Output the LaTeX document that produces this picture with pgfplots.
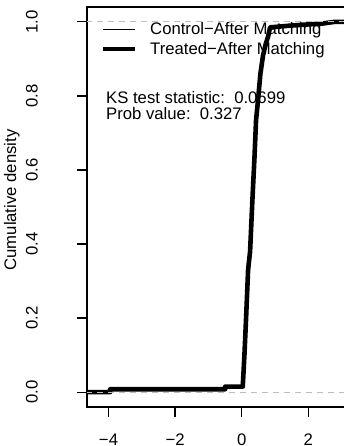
\documentclass[border=0pt]{standalone}
\usepackage{pgfplots}
\pgfplotsset{compat=1.18}
\usepackage{fontspec}
\setmainfont{Liberation Sans}
\newcommand\f{\fontsize{16.7}{19}\selectfont}
\definecolor{rgray}{HTML}{BEBEBE}
\begin{document}
\f
\begin{tikzpicture}
\useasboundingbox (0pt,0pt) rectangle (344pt,446pt);
\clip (0pt,0pt) rectangle (344pt,446pt);
\begin{axis}[
  at={(87pt,39pt)}, anchor=south west,
  scale only axis, width=268pt, height=400pt,
  xmin=-4.646, xmax=3.4, ymin=-0.04, ymax=1.04,
  xtick={-4,-2,0,2}, xticklabels={−4,−2,0,2},
  ytick={0,0.2,0.4,0.6,0.8,1.0}, yticklabels={0.0,0.2,0.4,0.6,0.8,1.0},
  xtick pos=bottom, ytick pos=left,
  tick align=outside, major tick length=10pt,
  tick style={line width=1.3pt, black},
  axis line style={line width=1.3pt},
  tick label style={font=\f},
  xticklabel style={anchor=base, inner sep=0pt},
  yticklabel style={rotate=90, anchor=south, inner sep=0pt},
  xticklabel shift=28.5pt, yticklabel shift=39pt,
  axis on top=false,
]
% Control
\addplot[black, line width=1.3pt] coordinates {
(-5,0) (-4.0,0) (-4.0,0.007) (-0.45,0.007) (-0.45,0.014) (0.05,0.014)
(0.09,0.10) (0.14,0.21) (0.20,0.33) (0.26,0.39) (0.33,0.53) (0.39,0.64)
(0.44,0.74) (0.50,0.80) (0.57,0.86) (0.65,0.915) (0.73,0.945) (0.80,0.965)
(0.88,0.983) (1.6,0.988) (2.1,0.992) (2.5,0.996) (2.9,1.0) (5,1.0)
};
% Treated
\addplot[black, line width=4.6pt, line join=round] coordinates {
(-5,0) (-3.95,0) (-3.95,0.008) (-0.5,0.008) (-0.5,0.015) (0.03,0.015)
(0.08,0.10) (0.13,0.20) (0.19,0.33) (0.25,0.38) (0.32,0.52) (0.38,0.63)
(0.43,0.735) (0.49,0.79) (0.56,0.86) (0.64,0.91) (0.72,0.94) (0.79,0.96)
(0.85,0.985) (1.5,0.99) (2.0,0.993) (2.4,0.995) (2.8,1.0) (5,1.0)
};
\addplot[rgray, line width=1.3pt, dash pattern=on 6pt off 5pt] coordinates {(-5,0) (5,0)};
\addplot[rgray, line width=1.3pt, dash pattern=on 6pt off 5pt] coordinates {(-5,1) (5,1)};
\end{axis}
% legend
\draw[black, line width=1.3pt] (103pt,416.7pt) -- (135pt,416.7pt);
\draw[black, line width=4.6pt] (103pt,397pt) -- (135pt,397pt);
\node[anchor=base west, inner sep=0pt] at (150pt,411pt) {Control−After Matching};
\node[anchor=base west, inner sep=0pt] at (150pt,391.7pt) {Treated−After Matching};
\node[anchor=base west, inner sep=0pt] at (106pt,342.9pt) {KS test statistic:\ \ 0.0699};
\node[anchor=base west, inner sep=0pt] at (106pt,326.7pt) {Prob value:\ \ 0.327};
\node[rotate=90, anchor=base, inner sep=0pt] at (16pt,246pt) {Cumulative density};
\end{tikzpicture}
\end{document}
